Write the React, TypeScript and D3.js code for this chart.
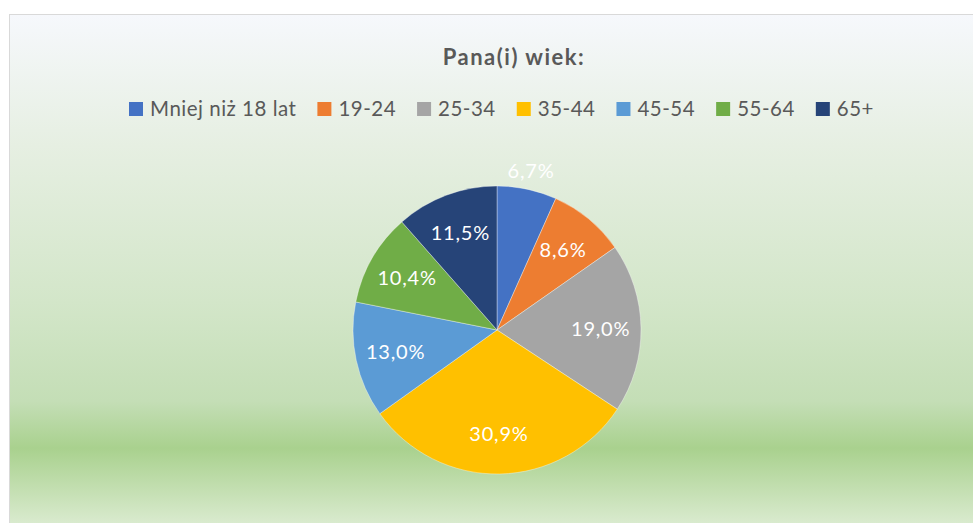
import React, { useEffect, useRef } from "react";
import * as d3 from "d3";

const title = "Pana(i) wiek:";
const categories = ["Mniej niż 18 lat", "19-24", "25-34", "35-44", "45-54", "55-64", "65+"];
const values = [6.7, 8.6, 19.0, 30.9, 13.0, 10.4, 11.5];
const colors = ["#4472C4", "#ED7D31", "#A5A5A5", "#FFC000", "#5B9BD5", "#70AD47", "#264478"];

const W = 973;
const H = 523;
const FONT = "Lato, 'Open Sans', sans-serif";

export default function App() {
  const ref = useRef<SVGSVGElement | null>(null);

  useEffect(() => {
    const svg = d3.select(ref.current);
    svg.selectAll("*").remove();

    const defs = svg.append("defs");
    const top = 15;
    const bottom = 537;
    const grad = defs
      .append("linearGradient")
      .attr("id", "bg")
      .attr("gradientUnits", "userSpaceOnUse")
      .attr("x1", 0)
      .attr("y1", top)
      .attr("x2", 0)
      .attr("y2", bottom);
    [
      [0, "#f6f8fc"],
      [0.25, "#e6efe2"],
      [0.55, "#d3e6c9"],
      [0.74, "#c4deb6"],
      [0.83, "#a9d18e"],
      [1, "#e2efda"],
    ].forEach(([o, c]) => grad.append("stop").attr("offset", o as number).attr("stop-color", c as string));

    svg.append("rect").attr("width", W).attr("height", H).attr("fill", "#ffffff");
    svg
      .append("rect")
      .attr("x", 9.5)
      .attr("y", 14.5)
      .attr("width", W + 20)
      .attr("height", H + 20)
      .attr("fill", "url(#bg)")
      .attr("stroke", "#d9d9d9")
      .attr("stroke-width", 1);

    svg
      .append("text")
      .attr("x", 514)
      .attr("y", 65)
      .attr("text-anchor", "middle")
      .attr("font-family", FONT)
      .attr("font-weight", "bold")
      .attr("font-size", 22)
      .attr("letter-spacing", 1.5)
      .attr("fill", "#595959")
      .text(title);

    // legend
    const lg = svg.append("g");
    const items = categories.map((c, i) => {
      const g = lg.append("g");
      g.append("rect").attr("width", 14).attr("height", 14).attr("y", -7).attr("fill", colors[i]);
      const t = g
        .append("text")
        .attr("x", 21)
        .attr("dy", "0.36em")
        .attr("font-family", FONT)
        .attr("font-size", 20.5)
        .attr("letter-spacing", 0.5)
        .attr("fill", "#595959")
        .text(c);
      const w = 21 + (t.node() as SVGTextElement).getComputedTextLength();
      return { g, w };
    });
    const gap = 21;
    const total = d3.sum(items, (d) => d.w) + gap * (items.length - 1);
    let x = 501.5 - total / 2;
    items.forEach((it) => {
      it.g.attr("transform", `translate(${x},109)`);
      x += it.w + gap;
    });

    // pie
    const cx = 497;
    const cy = 330;
    const r = 144;
    const pie = d3.pie<number>().sort(null).value((d) => d);
    const arcs = pie(values);
    const arc = d3.arc<d3.PieArcDatum<number>>().innerRadius(0).outerRadius(r);
    const g = svg.append("g").attr("transform", `translate(${cx},${cy})`);
    g.selectAll("path")
      .data(arcs)
      .join("path")
      .attr("d", arc as any)
      .attr("fill", (_, i) => colors[i])
      .attr("stroke", "#ffffff")
      .attr("stroke-opacity", 0.6)
      .attr("stroke-width", 0.6);

    const fmt = (v: number) => v.toFixed(1).replace(".", ",") + "%";
    const total2 = d3.sum(values);
    g.selectAll("text.lbl")
      .data(arcs)
      .join("text")
      .attr("class", "lbl")
      .attr("transform", (d) => {
        const a = (d.startAngle + d.endAngle) / 2;
        const share = d.value / total2;
        const rr = share < 0.075 ? r + 19 : r * 0.72;
        return `translate(${rr * Math.sin(a)},${-rr * Math.cos(a)})`;
      })
      .attr("text-anchor", "middle")
      .attr("dy", "0.36em")
      .attr("font-family", FONT)
      .attr("font-size", 20)
      .attr("letter-spacing", 0.8)
      .attr("fill", "#ffffff")
      .text((d) => fmt(d.value));
  }, []);

  return (
    <div style={{ position: "fixed", left: 0, top: 0 }}>
      <svg ref={ref} width={W} height={H} style={{ display: "block" }} />
    </div>
  );
}
